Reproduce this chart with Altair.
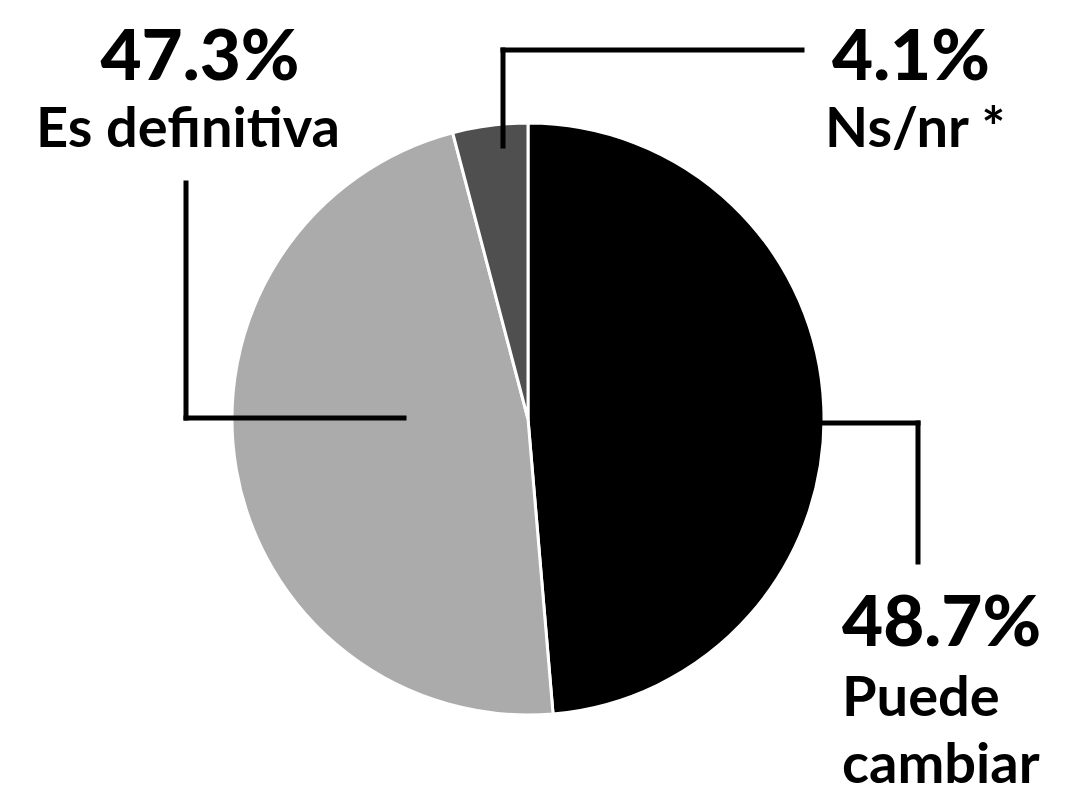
import altair as alt
import pandas as pd

# ---- data ----
categories = ["Puede cambiar", "Es definitiva", "Ns/nr *"]
values = [48.7, 47.3, 4.1]
slice_order = [0, 1, 2]

# ---- styles ----
fills = ["#000000", "#ababab", "#4f4f4f"]
FONT = "Lato"
PCT_SIZE = 71
LBL_SIZE = 56

pie_df = pd.DataFrame({"cat": categories, "value": values, "ord": slice_order})

CX, CY, R = 520, 411, 296

pie = alt.Chart(pie_df).mark_arc(outerRadius=R, stroke="white", strokeWidth=3).encode(
    theta=alt.Theta("value:Q", stack=True),
    order=alt.Order("ord:Q"),
    color=alt.Color("cat:N", scale=alt.Scale(domain=categories, range=fills), legend=None),
    x=alt.value(CX),
    y=alt.value(CY),
)

one = pd.DataFrame({"k": [0]})


def rule(x, y, x2=None, y2=None):
    enc = {"x": alt.value(x), "y": alt.value(y)}
    if x2 is not None:
        enc["x2"] = alt.value(x2)
    if y2 is not None:
        enc["y2"] = alt.value(y2)
    return alt.Chart(one).mark_rule(color="black", strokeWidth=5, strokeCap="square").encode(**enc)


rules = [
    # Es definitiva leader
    rule(178, 175, y2=410),
    rule(178, 410, x2=396),
    # Ns/nr leader
    rule(495, 42, y2=138),
    rule(495, 42, x2=794),
    # Puede cambiar leader
    rule(807, 415, x2=910),
    rule(910, 415, y2=554),
]


def txt(s, x, y, size, weight, align, **kw):
    return alt.Chart(pd.DataFrame({"t": [s]})).mark_text(
        align=align, baseline="alphabetic", font=FONT, fontSize=size,
        fontWeight=weight, color="black", **kw
    ).encode(x=alt.value(x), y=alt.value(y), text="t:N")


pct = [f"{v}%" for v in values]
puede, cambiar = categories[0].split(" ")

texts = [
    txt(pct[1], 192, 72, PCT_SIZE, 900, "center"),
    txt(categories[1], 180, 139, LBL_SIZE, "bold", "center"),
    txt(pct[2], 824, 72, PCT_SIZE, 900, "left"),
    txt(categories[2], 817, 139, LBL_SIZE, "bold", "left"),
    txt(pct[0], 834, 638, PCT_SIZE, 900, "left"),
    txt(puede, 834, 708, LBL_SIZE, "bold", "left"),
    txt(cambiar, 834, 775, LBL_SIZE, "bold", "left"),
]

chart = alt.layer(pie, *rules, *texts).properties(
    width=1049,
    height=786,
    autosize=alt.AutoSizeParams(type="fit", contains="padding"),
    padding=0,
).configure_view(stroke=None)

chart.save("out.html", embed_options={"renderer": "svg", "actions": False})
